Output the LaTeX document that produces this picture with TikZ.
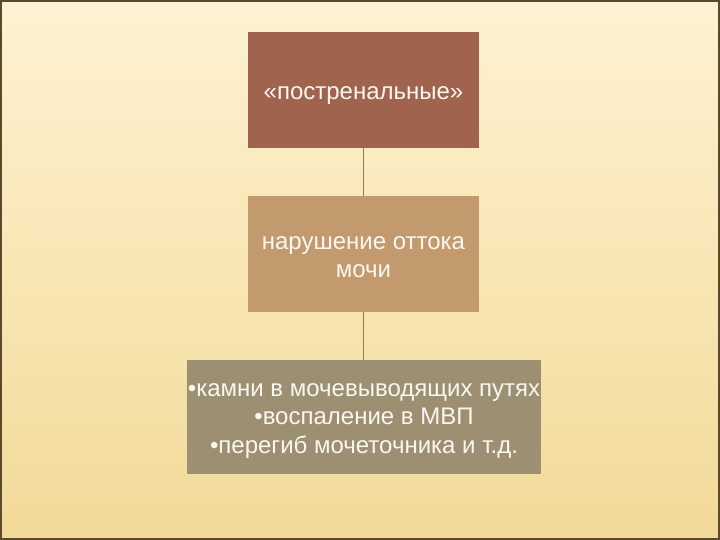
\documentclass[tikz,border=0pt]{standalone}
\usepackage{fontspec}
\setmainfont{Liberation Sans}
\definecolor{bgtop}{HTML}{FDF2D2}
\definecolor{bgmid}{HTML}{F8E6B4}
\definecolor{bgbot}{HTML}{F1D998}
\definecolor{frame}{HTML}{5A4A2C}
\definecolor{boxA}{HTML}{A0634E}
\definecolor{boxB}{HTML}{C39A6E}
\definecolor{boxC}{HTML}{9C8F72}
\definecolor{link}{HTML}{8E7A55}
\definecolor{txt}{HTML}{FBF7F0}
\begin{document}
\begin{tikzpicture}[x=1pt,y=-1pt,
  box/.style={rectangle, inner sep=0pt},
  lbl/.style={inner sep=0pt, text=txt, align=center,
    font=\fontsize{24}{28.5}\selectfont},
  link/.style={draw=link, line width=1.6pt}]
\useasboundingbox (0,0) rectangle (720,540);
\shade[top color=bgtop, bottom color=bgbot, middle color=bgmid] (0,0) rectangle (720,540);
\draw[frame, line width=2pt] (1,1) rectangle (719,539);
\node[box, fill=boxA, minimum width=231pt, minimum height=116pt] (a) at (363.5,90) {};
\node[box, fill=boxB, minimum width=231pt, minimum height=116pt] (b) at (363.5,254) {};
\node[box, fill=boxC, minimum width=354pt, minimum height=114pt] (c) at (364,417) {};
\node[lbl] (at) at ([yshift=-6pt]a.center) {«постренальные»};
\node[lbl] (bt) at ([yshift=-3pt]b.center) {нарушение оттока\\мочи};
\node[lbl] (ct) at ([yshift=-4pt]c.center) {•камни в мочевыводящих путях\\•воспаление в МВП\\•перегиб мочеточника и т.д.};
\draw[link] (a.south) -- (b.north);
\draw[link] (b.south) -- (b.south |- c.north);
\end{tikzpicture}
\end{document}
